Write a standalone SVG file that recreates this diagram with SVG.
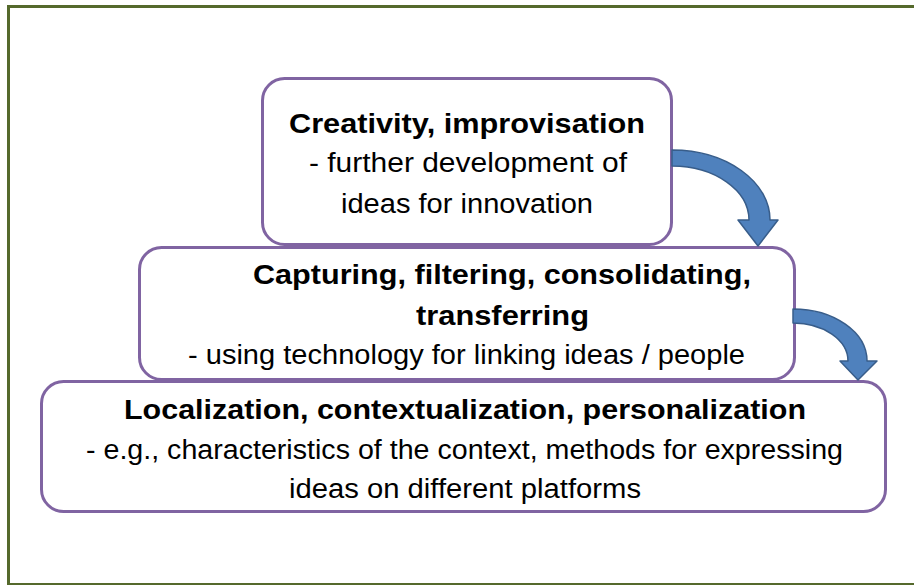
<svg xmlns="http://www.w3.org/2000/svg" width="914" height="585" viewBox="0 0 914 585">
<style>
.box{fill:#ffffff;stroke:#8064A2;stroke-width:3}
.arrow{fill:#4F81BD;stroke:#385D8A;stroke-width:1.5;stroke-linejoin:round}
.t{font-family:"Liberation Sans",Arial,sans-serif;font-size:27px;fill:#000000}
.b{font-weight:bold}
</style>
<rect x="8.5" y="6.5" width="912" height="578" fill="#ffffff" stroke="#55692C" stroke-width="3"/>
<g id="node-localization">
<rect class="box" x="41.5" y="381.5" width="844" height="130" rx="22"/>
<text class="t b" x="124" y="419" textLength="682" lengthAdjust="spacingAndGlyphs">Localization, contextualization, personalization</text>
<text class="t" x="86" y="459" textLength="757" lengthAdjust="spacingAndGlyphs">- e.g., characteristics of the context, methods for expressing</text>
<text class="t" x="289" y="498" textLength="352" lengthAdjust="spacingAndGlyphs">ideas on different platforms</text>
</g>
<g id="node-capturing">
<rect class="box" x="139.5" y="247.5" width="655" height="132" rx="22"/>
<text class="t b" x="253" y="284" textLength="498" lengthAdjust="spacingAndGlyphs">Capturing, filtering, consolidating,</text>
<text class="t b" x="416" y="325" textLength="173" lengthAdjust="spacingAndGlyphs">transferring</text>
<text class="t" x="188" y="364" textLength="557" lengthAdjust="spacingAndGlyphs">- using technology for linking ideas / people</text>
</g>
<g id="node-creativity">
<rect class="box" x="262.5" y="78.5" width="409" height="166" rx="22"/>
<text class="t b" x="289" y="133" textLength="356" lengthAdjust="spacingAndGlyphs">Creativity, improvisation</text>
<text class="t" x="309" y="172" textLength="318" lengthAdjust="spacingAndGlyphs">- further development of</text>
<text class="t" x="341" y="213" textLength="252" lengthAdjust="spacingAndGlyphs">ideas for innovation</text>
</g>
<g id="connectors">
<path class="arrow" d="M 672 150 A 98 70 0 0 1 770 220 L 778 220 L 758 246 L 738 220 L 749 220 A 77 54 0 0 0 672 166 Z"/>
<path class="arrow" d="M 793 309 A 74 52 0 0 1 867 361 L 877 361 L 858 380 L 840 361 L 848 361 A 55 38 0 0 0 793 323 Z"/>
</g>
</svg>
